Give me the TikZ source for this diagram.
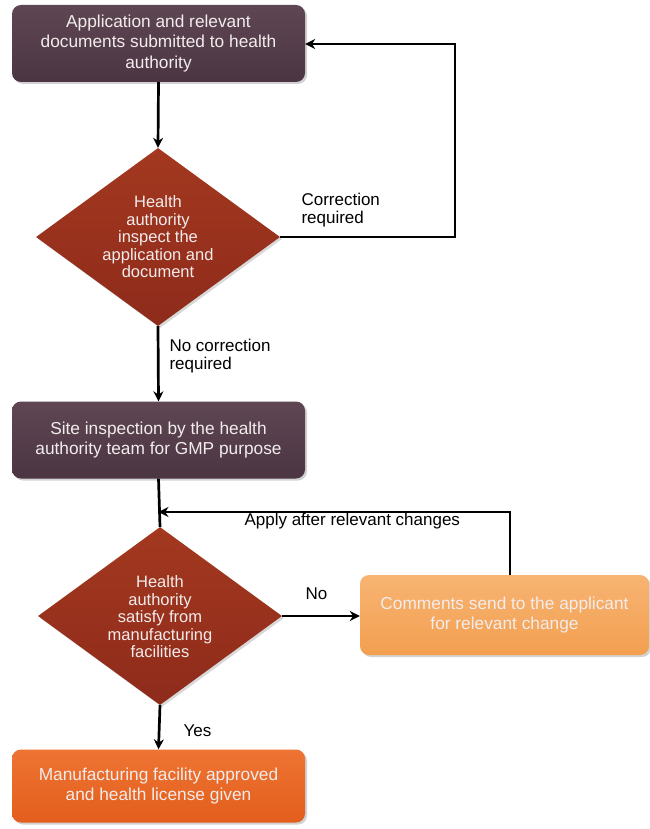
\documentclass[tikz,border=0pt]{standalone}
\usepackage{fontspec}
\setmainfont{Liberation Sans}
\usetikzlibrary{shapes.geometric,arrows.meta,shadows}
\definecolor{plum}{HTML}{4C3542}
\definecolor{plumtop}{HTML}{5E4653}
\definecolor{rust}{HTML}{8E2B1B}
\definecolor{rusttop}{HTML}{A3381F}
\definecolor{apricot}{HTML}{F39F50}
\definecolor{apricottop}{HTML}{F7B472}
\definecolor{flame}{HTML}{E35E1C}
\definecolor{flametop}{HTML}{EE7433}
\definecolor{boxtext}{HTML}{F2ECEC}
\tikzset{
  stepbox/.style={rectangle, rounded corners=9pt, minimum width=293pt, minimum height=77pt,
    align=center, text=boxtext, font=\fontsize{17.3}{20.5}\selectfont,
    drop shadow={opacity=0.35, shadow xshift=2pt, shadow yshift=-2pt}},
  plumbox/.style={stepbox, top color=plumtop, bottom color=plum},
  decision/.style={diamond, minimum width=244pt, minimum height=178pt, inner sep=0pt,
    top color=rusttop, bottom color=rust,
    drop shadow={opacity=0.3, shadow xshift=2pt, shadow yshift=-2pt}},
  decisiontext/.style={align=center, text=boxtext, font=\fontsize{16.5}{17.5}\selectfont},
  flowlabel/.style={align=left, font=\fontsize{17}{18}\selectfont, anchor=west},
  flow/.style={line width=2.7pt, -{Stealth[length=10pt,width=10pt]}},
  plainline/.style={line width=2.7pt}
}
\begin{document}
\begin{tikzpicture}[x=1pt,y=-1pt]
\useasboundingbox[fill=white] (0,0) rectangle (649,829);

% process boxes
\node[plumbox] (submit) at (158.5,43.5) {Application and relevant\\documents submitted to health\\authority};
\node[decision] (inspect) at (158,237) {};
\node[decisiontext] (inspecttxt) at (158,237) {Health\\authority\\inspect the\\application and\\document};
\node[plumbox] (site) at (158.5,440) {Site inspection by the health\\authority team for GMP purpose};
\node[decision] (satisfy) at (160,616) {};
\node[decisiontext] (satisfytxt) at (160,617) {Health\\authority\\satisfy from\\manufacturing\\facilities};
\node[stepbox, minimum width=289pt, minimum height=80pt, top color=apricottop, bottom color=apricot]
  (comments) at (504.5,615) {Comments send to the applicant\\for relevant change};
\node[stepbox, minimum height=73pt, top color=flametop, bottom color=flame]
  (approved) at (158.5,786) {Manufacturing facility approved\\and health license given};

% helper corners for the loops
\coordinate (loopA) at (455,237);
\coordinate (loopB) at (455,44);
\coordinate (loopC) at (510,512);
\coordinate (join) at (158.5,512);

% connectors
\draw[flow] (submit.south) -- (inspect.north);
\draw[flow] (inspect.east) -- (loopA) -- (loopB) -- (submit.east |- loopB);
\draw[flow] (inspect.south) -- (site.north);
\draw[plainline] (site.south) -- (satisfy.north);
\draw[flow] (comments.north -| loopC) -- (loopC) -- (join);
\draw[flow] (satisfy.east) -- (comments.west |- satisfy.east);
\draw[flow] (satisfy.south) -- (approved.north);

% connector labels
\node[flowlabel] (corr) at (298,210) {Correction\\required};
\node[flowlabel] (nocorr) at (166,356) {No correction\\required};
\node[flowlabel] (apply) at (241,521) {Apply after relevant changes};
\node[flowlabel] (no) at (302,594) {No};
\node[flowlabel] (yes) at (180,731) {Yes};
\end{tikzpicture}
\end{document}
